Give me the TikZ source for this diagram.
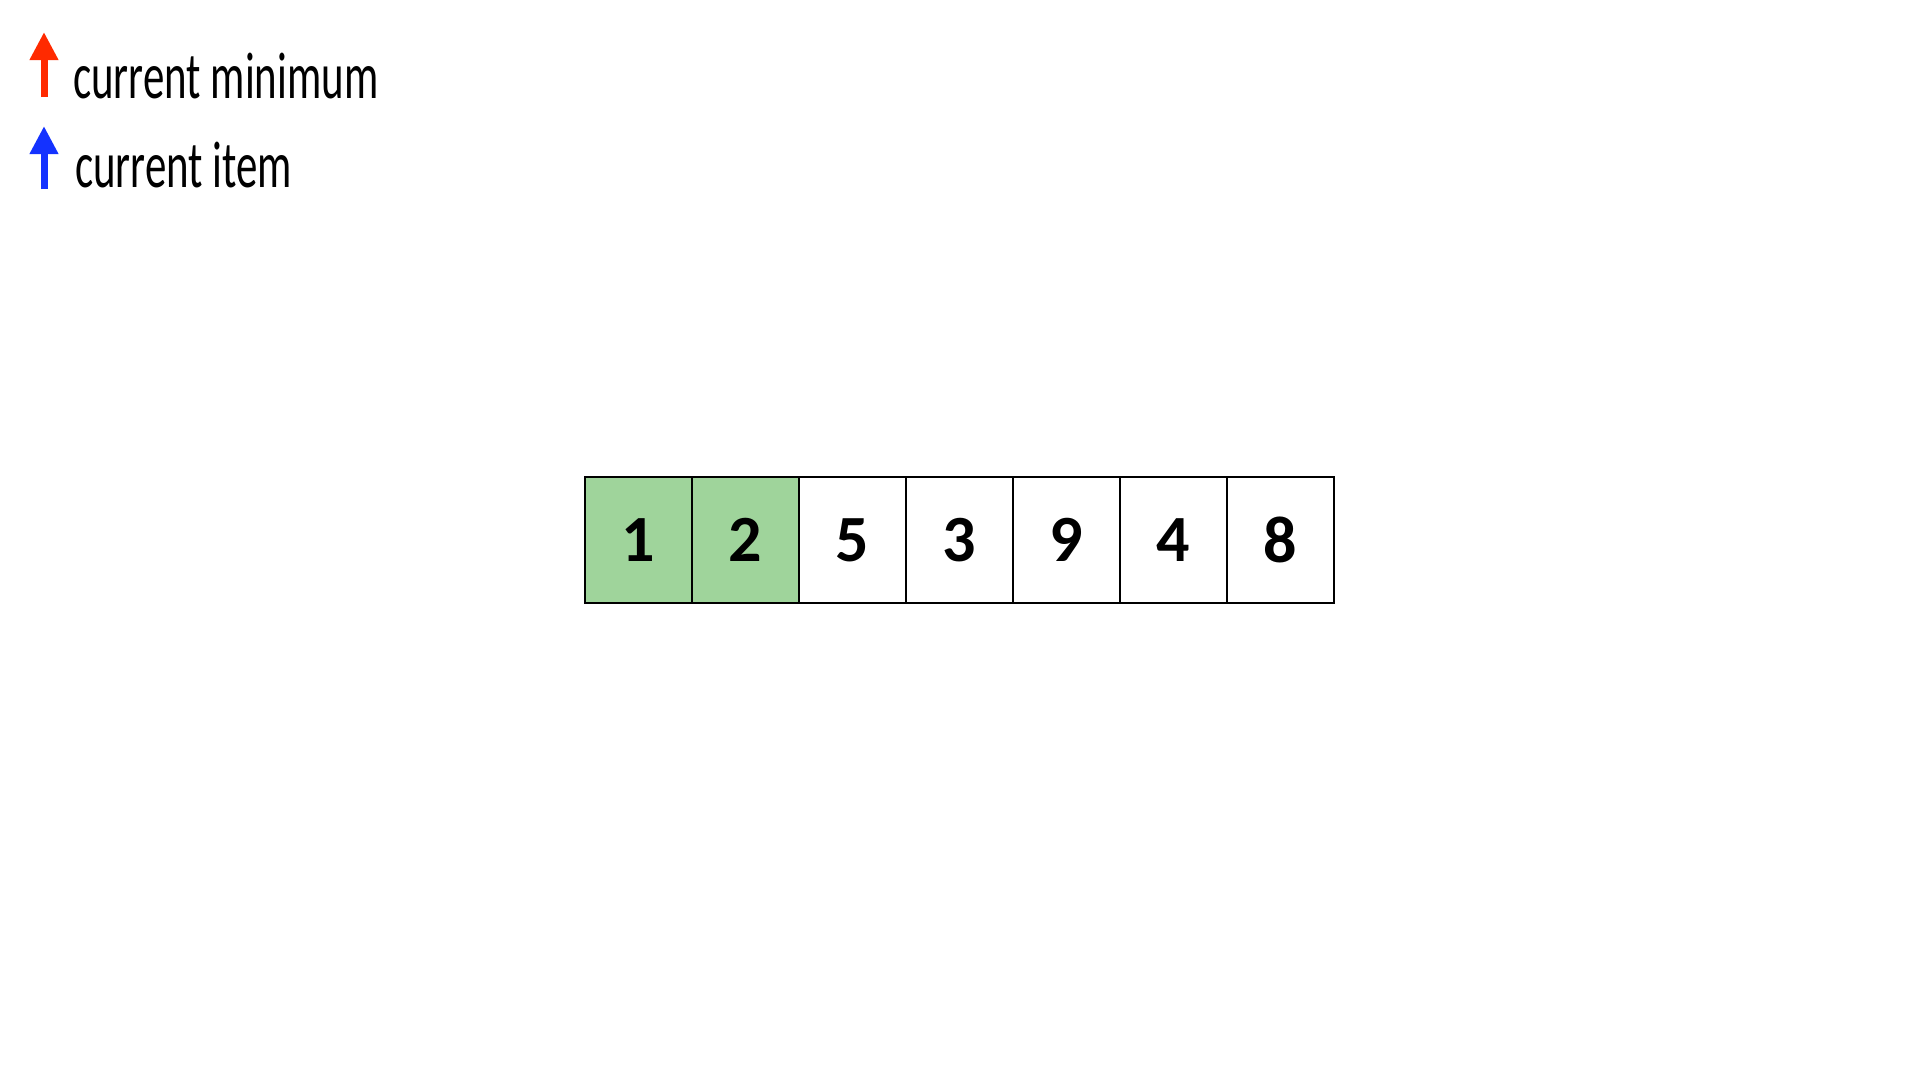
\documentclass[tikz,border=0pt]{standalone}
\usepackage{fontspec}
\setmainfont{Carlito}
\newfontfamily\legendfont[FakeStretch=0.65]{Carlito}
\usepackage{xcolor}
\definecolor{minRed}     {HTML}{FF2A00}
\definecolor{itemBlue}   {HTML}{1432FF}
\definecolor{sortedGreen}{HTML}{9FD49B}
\usetikzlibrary{arrows.meta, positioning}

\begin{document}
\begin{tikzpicture}[x=1pt, y=-1pt,
    cell/.style={draw, line width=2pt, minimum width=107pt, minimum height=126pt,
                 inner sep=0pt, outer sep=0pt, font=\fontsize{66}{66}\selectfont\bfseries},
    legendarrow/.style={line width=7pt, -{Triangle[width=27pt, length=28pt]}},
    legendtext/.style={anchor=base west, inner sep=0pt, font=\legendfont\fontsize{66}{66}\selectfont}]
    \useasboundingbox (0,0) rectangle (1920,1080);
    % Legend: red = current minimum, blue = current item.
    \coordinate (minFoot) at (44,97);
    \coordinate (minTip)  at (44,32);
    \coordinate (itemFoot) at (44,189);
    \coordinate (itemTip)  at (44,126);
    \draw[legendarrow, minRed]   (minFoot) -- (minTip);
    \draw[legendarrow, itemBlue] (itemFoot) -- (itemTip);
    \node[legendtext] (minLabel)  at (73,98)  {current minimum};
    \node[legendtext] (itemLabel) at (75,187) {current item};
    % The array, first two cells already sorted.
    \foreach \val [count=\i] in {1,2,5,3,9,4,8} {
        \ifnum\i<3
            \node[cell, fill=sortedGreen] (c\i) at ({531.5+107*\i},540) {\val};
        \else
            \node[cell, fill=white] (c\i) at ({531.5+107*\i},540) {\val};
        \fi
    }
\end{tikzpicture}
\end{document}
